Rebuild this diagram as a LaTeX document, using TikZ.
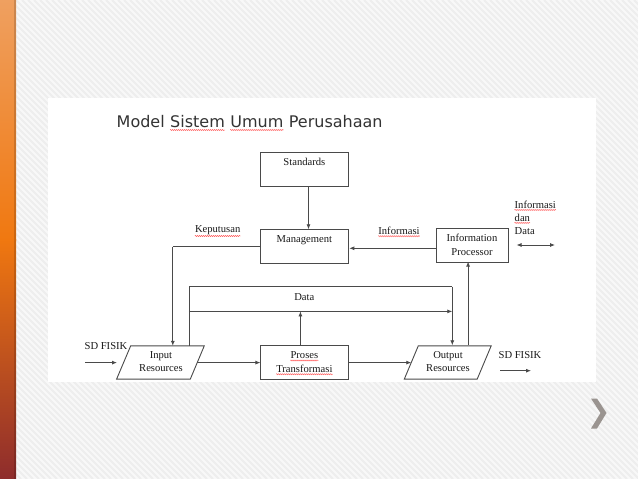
\documentclass[tikz,border=0pt]{standalone}
\usepackage{fontspec}
\setmainfont{Liberation Serif}
\newfontfamily\titlefont{DejaVu Sans}
\usetikzlibrary{arrows.meta,decorations.pathmorphing}
\definecolor{ln}{HTML}{4A4A4A}
\definecolor{barTop}{HTML}{EFA060}
\definecolor{barMid}{HTML}{F07810}
\definecolor{barBot}{HTML}{8E2C2C}
\definecolor{bg}{HTML}{F8F8F8}
\definecolor{stripe}{HTML}{EEEEEE}
\definecolor{chev}{HTML}{9A9490}
\tikzset{
  box/.style={draw=ln,line width=0.9pt,minimum width=88pt,minimum height=34pt,inner sep=0pt},
  shapeline/.style={draw=ln,line width=0.9pt},
  lbl/.style={inner sep=0pt,font=\fontsize{10.6}{13.7}\selectfont,text=black!90},
  ttl/.style={inner sep=0pt,anchor=base west,font=\titlefont\fontsize{16}{19}\selectfont,text=black!80},
  conn/.style={draw=ln,line width=0.8pt},
  arr/.style={conn,-{Latex[length=5pt,width=4pt]}},
  spell/.style={draw=red!70,line width=0.4pt,decorate,decoration={snake,amplitude=0.6pt,segment length=2pt}}
}
\begin{document}
\begin{tikzpicture}[x=1pt,y=-1pt]
\useasboundingbox (0,0) rectangle (638,479);
% slide background
\fill[bg] (0,0) rectangle (638,479);
\begin{scope}
\clip (16,0) rectangle (638,479);
\foreach \i in {-500,-494,...,640}{
  \draw[stripe,line width=2pt] (\i,0) -- ++(479,479);
}
\end{scope}
\shade[top color=barTop,bottom color=barMid] (0,0) rectangle (16,240);
\shade[top color=barMid,bottom color=barBot] (0,239) rectangle (16,479);
\fill[black,opacity=0.15] (14,0) rectangle (16,479);
% panel
\fill[white] (48,98) rectangle (596,382);
% chevron
\fill[chev] (591,398.5) -- (597,398.5) -- (606.5,413) -- (597,428.5) -- (591,428.5) -- (600.5,413) -- cycle;
% title
\node[ttl] (t1) at (116.5,127) {Model};
\node[ttl] (t2) at ([xshift=5.1pt]t1.base east) {Sistem};
\node[ttl] (t3) at ([xshift=5.1pt]t2.base east) {Umum};
\node[ttl] (t4) at ([xshift=5.1pt]t3.base east) {Perusahaan};
% boxes
\node[box,anchor=north west] (std) at (260.4,152.2) {};
\node[lbl] (stdt) at (304.4,161.5) {Standards};
\node[box,anchor=north west] (mgmt) at (260.4,229.3) {};
\node[lbl] (mgmtt) at (304.4,240.5) {Management};
\node[box,anchor=north west,minimum width=72pt] (ip) at (435.8,227.6) {};
\node[lbl,align=center] (ipt) at (472,244.5) {Information\\Processor};
\node[box,anchor=north west] (proc) at (260.4,345) {};
\node[lbl] (proct1) at (304.4,355.5) {Proses};
\node[lbl] (proct2) at (304.4,369) {Transformasi};
% parallelograms
\coordinate (inpTL) at (130.7,345.8);
\coordinate (inpTR) at (204.3,345.8);
\coordinate (inpBR) at (190.3,379.1);
\coordinate (inpBL) at (116.6,379.1);
\coordinate (inpE) at (197.3,362.6);
\draw[shapeline] (inpTL) -- (inpTR) -- (inpBR) -- (inpBL) -- cycle;
\node[lbl,align=center] (inp) at (161,361.5) {Input\\Resources};
\coordinate (outTL) at (418.3,345.8);
\coordinate (outTR) at (491.2,345.8);
\coordinate (outBR) at (477.2,379.1);
\coordinate (outBL) at (404.3,379.1);
\coordinate (outW) at (411.3,362.6);
\draw[shapeline] (outTL) -- (outTR) -- (outBR) -- (outBL) -- cycle;
\node[lbl,align=center] (out) at (448,361.5) {Output\\Resources};
% labels
\node[lbl] (kep) at (217.7,230) {Keputusan};
\node[lbl] (inf) at (399,231) {Informasi};
\node[lbl] (data) at (304.3,297.4) {Data};
\node[lbl,anchor=west] (ind1t) at (514.5,204.8) {Informasi};
\node[lbl,anchor=west] (ind2t) at (514.5,217.8) {dan};
\node[lbl,anchor=west] (ind3t) at (514.5,230.7) {Data};
\node[lbl] (sdl) at (106,346.5) {SD FISIK};
\node[lbl] (sdr) at (520,355) {SD FISIK};
% coordinates
\coordinate (kepc) at (172.8,246.5);
\coordinate (inpk) at (172.8,345.8);
\coordinate (inpd) at (188.9,345.8);
\coordinate (dtl) at (188.9,286.5);
\coordinate (dtr) at (452.3,286.5);
\coordinate (outd) at (452.3,345.3);
\coordinate (dml) at (188.9,311.4);
\coordinate (dmr) at (452.3,311.4);
\coordinate (procd) at (300.4,345);
\coordinate (dmp) at (300.4,311.4);
\coordinate (outi) at (468.1,345.3);
\coordinate (ipb) at (468.1,261.6);
\coordinate (sdl1) at (85,362.6);
\coordinate (sdl2) at (117,362.6);
\coordinate (sdr1) at (500,370.7);
\coordinate (sdr2) at (531,370.7);
\coordinate (ind1) at (516.5,245);
\coordinate (ind2) at (555,245);
% connectors
\draw[arr] (std.south -| 308.5,0) -- (mgmt.north -| 308.5,0);
\draw[arr] (ip.west |- 0,248.3) -- (mgmt.east |- 0,248.3);
\draw[conn] (mgmt.west |- 0,246.5) -- (kepc);
\draw[arr] (kepc) -- (inpk);
\draw[conn] (inpd) -- (dtl) -- (dtr);
\draw[arr] (dtr) -- (outd);
\draw[arr] (dml) -- (dmr);
\draw[arr] (procd) -- (dmp);
\draw[arr] (outi) -- (ipb);
\draw[arr] (inpE) -- (proc.west |- 0,362.6);
\draw[arr] (proc.east |- 0,362.6) -- (outW);
\draw[arr] (sdl1) -- (sdl2);
\draw[arr] (sdr1) -- (sdr2);
\draw[conn,{Latex[length=5pt,width=4pt]}-{Latex[length=5pt,width=4pt]}] (ind1) -- (ind2);
% spell-check underlines
\draw[spell] ([yshift=-3pt]t2.base west) -- ([yshift=-3pt]t2.base east);
\draw[spell] ([yshift=-3pt]t3.base west) -- ([yshift=-3pt]t3.base east);
\draw[spell] ([yshift=-1.2pt]kep.south west) -- ([yshift=-1.2pt]kep.south east);
\draw[spell] ([yshift=-1.2pt]inf.south west) -- ([yshift=-1.2pt]inf.south east);
\draw[spell] ([yshift=-1.2pt]ind1t.south west) -- ([yshift=-1.2pt]ind1t.south east);
\draw[spell] ([yshift=-1.2pt]ind2t.south west) -- ([yshift=-1.2pt]ind2t.south east);
\draw[spell] ([yshift=-1.2pt]proct1.south west) -- ([yshift=-1.2pt]proct1.south east);
\draw[spell] ([yshift=-1.2pt]proct2.south west) -- ([yshift=-1.2pt]proct2.south east);
\end{tikzpicture}
\end{document}
